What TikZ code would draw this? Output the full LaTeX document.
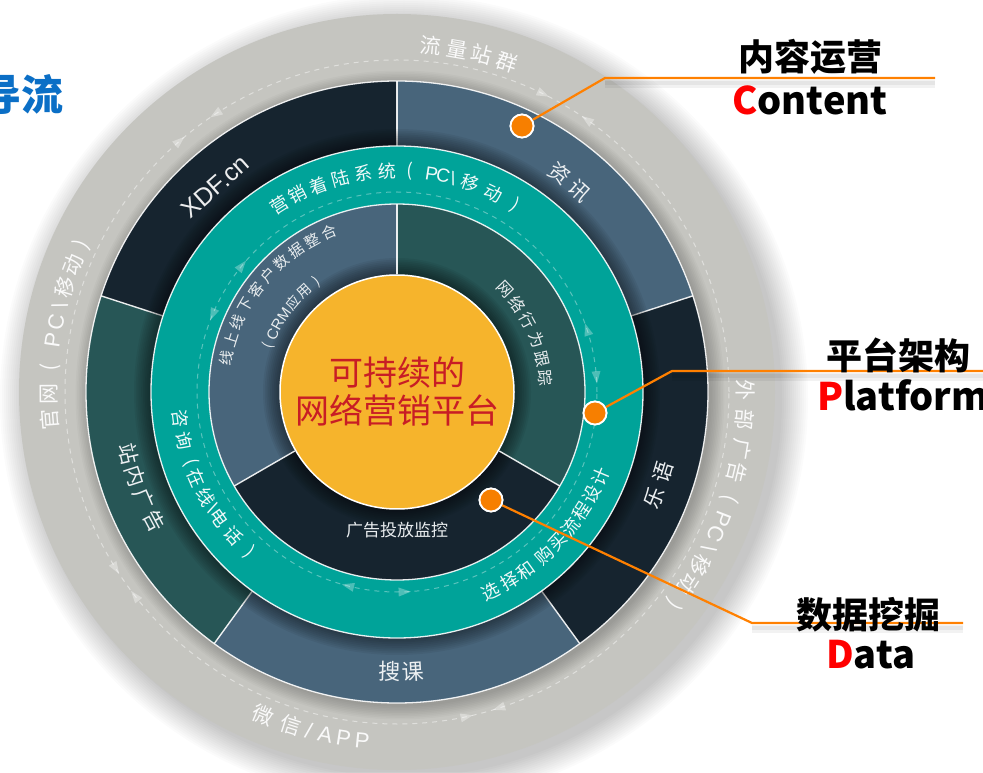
\documentclass[tikz,border=0pt]{standalone}
\usepackage{fontspec}
\newfontfamily\cjk{Noto Sans CJK SC}
\newfontfamily\arialf{Liberation Sans}
\usetikzlibrary{calc}
\definecolor{ringgray}{HTML}{C5C5C0}
\definecolor{navy}{HTML}{16242F}
\definecolor{slate}{HTML}{48657B}
\definecolor{dteal}{HTML}{275656}
\definecolor{tealr}{HTML}{00A399}
\definecolor{corey}{HTML}{F6B42C}
\definecolor{corered}{HTML}{C81D25}
\definecolor{dotor}{HTML}{F77F00}
\definecolor{lineor}{HTML}{FF8000}
\definecolor{titleblue}{HTML}{0B6FC6}
\definecolor{labred}{HTML}{FF0000}
\newcommand\fs[1]{\fontsize{#1}{#1}\selectfont}
\newcommand\slashc{/}
\newcommand\LA[1]{{\arialf\fs{22}#1}}
\newcommand\LB[1]{{\arialf\fs{19}#1}}
\newcommand\LC[1]{{\arialf\fs{15}#1}}
% #1 name prefix, #2 radius, #3 sign (-1 clockwise, tops out; 1 counter-clockwise, tops in), #4 style, #5 angle/text list
\newcommand\ringtext[5]{%
  \foreach \ang/\txt [count=\k] in {#5}{%
    \pgfmathsetmacro\rot{\ang+90*(#3)}%
    \node[#4, rotate=\rot] (#1\k) at ($(C)+(\ang:#2)$) {\txt};
  }%
}
% #1 angle, #2 radius, #3 direction (+1 ccw, -1 cw), #4 style
\newcommand\tri[4]{%
  \pgfmathsetmacro\dd{#1+90*(#3)}%
  \fill[#4] ($(C)+(#1:#2)+(\dd:7)$) -- ($(C)+(#1:#2)+(\dd+140:7)$) -- ($(C)+(#1:#2)+(\dd-140:7)$) -- cycle;
}
\newcommand\pie[4]{% color, a1, a2, radius
  \fill[#1] (C) -- ($(C)+(#2:#4)$) arc[start angle=#2, end angle=#3, radius=#4] -- cycle;
}
\tikzset{
  graytxt/.style={inner sep=0pt, text=white!92!ringgray, font=\cjk\fs{21}},
  darktxt/.style={inner sep=0pt, text=white!90!slate, font=\cjk\fs{21}},
  tealtxt/.style={inner sep=0pt, text=white!94!tealr, font=\cjk\fs{18}},
  innertxt/.style={inner sep=0pt, text=white!88!slate, font=\cjk\fs{15}},
  divider/.style={white, line width=1.4pt, opacity=0.9},
  edge/.style={white, line width=1.3pt, opacity=0.9},
  dashring/.style={white, line width=1pt, dash pattern=on 5pt off 5pt},
  graytri/.style={white, opacity=0.35},
  tealtri/.style={white, opacity=0.3},
  dotnode/.style={circle, fill=dotor, draw=white, line width=1.8pt, minimum size=23pt, inner sep=0pt},
  leader/.style={lineor, line width=2.2pt},
  labzh/.style={inner sep=0pt, font=\cjk\bfseries\fs{36}, text=black},
  laben/.style={inner sep=0pt, font=\cjk\bfseries\fs{38}, text=black},
}
\begin{document}
\begin{tikzpicture}[x=1pt, y=1pt]
\useasboundingbox (0,0) rectangle (983,772);
\fill[white] (0,0) rectangle (983,772);
\coordinate (C) at (397,380);

% soft shadow of the wheel
\foreach \k in {1,...,14} {
  \fill[black, opacity=0.016] ($(C)+(7,-7)$) circle[radius=376+2*\k];
}
% outer gray ring
\fill[ringgray] (C) circle[radius=378];
\draw[dashring, opacity=0.45] (C) circle[radius=332];
\tri{123}{332}{1}{graytri}
\tri{131}{332}{-1}{graytri}
\tri{55}{332}{1}{graytri}
\tri{64}{332}{-1}{graytri}
\tri{212}{332}{1}{graytri}
\tri{218}{332}{-1}{graytri}
\tri{282}{332}{1}{graytri}
\tri{288}{332}{-1}{graytri}
% shadow cast by the dark ring
\foreach \k in {1,...,9} {
  \fill[black, opacity=0.025] ($(C)+(3,-3)$) circle[radius=310+1.6*\k];
}

% dark ring segments
\pie{slate}{18}{90}{311}
\pie{navy}{90}{162}{311}
\pie{dteal}{162}{234}{311}
\pie{slate}{234}{306}{311}
\pie{navy}{306}{378}{311}
\foreach \a in {18,90,162,234,306} {
  \draw[divider] ($(C)+(\a:246)$) -- ($(C)+(\a:311)$);
}
\draw[edge] (C) circle[radius=311];
% shadow of teal ring on dark ring
\foreach \k in {1,...,10} {
  \fill[black, opacity=0.05] (C) circle[radius=245+1.8*\k];
}

% teal ring
\fill[tealr] (C) circle[radius=246];
\draw[edge] (C) circle[radius=246];
\draw[dashring, opacity=0.35] (C) circle[radius=200];
\tri{141}{200}{-1}{tealtri}
\tri{157}{200}{1}{tealtri}
\tri{4.4}{200}{-1}{tealtri}
\tri{18}{200}{1}{tealtri}
\tri{256}{200}{-1}{tealtri}
\tri{272}{200}{1}{tealtri}

% inner ring segments
\pie{dteal}{-30}{90}{188}
\pie{slate}{90}{210}{188}
\pie{navy}{210}{330}{188}
\draw[edge] (C) circle[radius=188];
\foreach \k in {1,...,10} {
  \fill[black, opacity=0.055] (C) circle[radius=116+1.8*\k];
}
\foreach \a in {90,210,330} {
  \draw[divider] ($(C)+(\a:118)$) -- ($(C)+(\a:188)$);
}
% core
\fill[corey] (C) circle[radius=117];
\draw[white, line width=1.5pt] (C) circle[radius=117];
\node[inner sep=0pt, align=center, text=corered, font=\cjk\fs{34}] (core) at (397,380)
  {\fs{34}可持续的\\[4pt]\fs{34}网络营销平台};

% ---------- texts on the gray ring
\ringtext{ga}{348}{-1}{graytxt}{84.4/流,80.1/量,75.9/站,71.6/群}
\ringtext{gb}{348}{-1}{graytxt}{184.5/官,180.3/网,176/(,171.5/\LA{P},168.4/\LA{C},165.7/\LA{\textbackslash},162.5/移,158.5/动,155/)}
\ringtext{gc}{349}{-1}{graytxt}{0.3/外,-4.6/部,-9.5/广,-13.4/告,-17.8/(,-21.3/\LA{P},-24/\LA{C},-26.7/\LA{\textbackslash},-29.8/移,-33.4/动,-37.5/)}
\ringtext{gd}{350}{1}{graytxt}{247.6/微,252.3/信,255.4/\LA{\slashc},258.2/\LA{A},261.2/\LA{P},264.3/\LA{P}}

% ---------- texts on the dark ring
\node[inner sep=0pt, text=white!92!navy, font=\arialf\fs{25}, rotate=41.5] (xdf) at ($(C)+(131.5:274)$) {XDF.cn};
\ringtext{da}{272}{-1}{darktxt}{53.3/资,47.8/讯}
\ringtext{db}{275}{1}{darktxt}{193.1/站,197.8/内,203/广,208/告}
\ringtext{dc}{280}{1}{darktxt, font=\cjk\fs{22}}{268.6/搜,273.3/课}
\ringtext{dd}{278}{1}{darktxt}{-22.4/乐,-16.8/语}

% ---------- texts on the teal ring
\ringtext{ta}{221}{-1}{tealtxt}{122.2/营,116.7/销,110.9/着,104.9/陆,98.8/系,92.6/统,86.6/(,81/\LB{P},77.9/\LB{C},75.3/\LB{\textbackslash},70.7/移,64.2/动,57.7/)}
\ringtext{tb}{218}{1}{tealtxt}{186.9/咨,192.9/询,198.9/(,203.3/在,208.9/线,212.2/\LB{\textbackslash},215.4/电,221.3/话,227.4/)}
\ringtext{tc}{220}{1}{tealtxt}{-64.8/选,-59.3/择,-54.2/和,-48/购,-42.8/买,-38/流,-32.8/程,-27.7/设,-22.5/计}

% ---------- texts on the inner ring
\ringtext{ia}{149}{-1}{innertxt, font=\cjk\fs{16}}{43.4/网,36.1/络,28.6/行,20.5/为,12.9/跟,5.4/踪}
\ringtext{ib}{174}{-1}{innertxt}{168.7/线,162.5/上,156.3/线,150.2/下,144/客,137.8/户,131.6/数,125.5/据,119.3/整,113.1/合}
\ringtext{ic}{137}{-1}{innertxt, font=\cjk\fs{14}}{160.5/(,155/\LC{C},150.6/\LC{R},145.4/\LC{M},139.3/应,132.7/用,126/)}
\node[innertxt, font=\cjk\fs{17}] (adv) at (397,242) {广告投放监控};

% ---------- title fragment
\node[inner sep=0pt, anchor=east, text=titleblue, font=\cjk\bfseries\fs{42}] (title) at (64,677) {导流};

% ---------- leader lines
\foreach \ya/\xa/\xb in {688/605/935, 395/672/983, 143/752/963} {
  \draw[black, opacity=0.05, line width=8pt] (\xa,\ya) -- (\xb,\ya);
  \draw[black, opacity=0.05, line width=4pt] (\xa,\ya+1) -- (\xb,\ya+1);
}
\node[dotnode] (dC) at (522,646) {};
\node[dotnode] (dP) at (595,359) {};
\node[dotnode] (dD) at (491,272) {};
\coordinate (cC1) at (605,694);
\coordinate (cC2) at (935,694);
\coordinate (cP1) at (672,401);
\coordinate (cP2) at (983,401);
\coordinate (cD1) at (752,149);
\coordinate (cD2) at (963,149);
\draw[leader] (dC) -- (cC1) -- (cC2);
\draw[leader] (dP) -- (cP1) -- (cP2);
\draw[leader] (dD) -- (cD1) -- (cD2);
\node[dotnode] at (dC) {};
\node[dotnode] at (dP) {};
\node[dotnode] at (dD) {};

% ---------- labels
\node[labzh] (lC1) at (810,715) {内容运营};
\node[laben] (lC2) at (810,672) {\textcolor{labred}{C}ontent};
\node[labzh] (lP1) at (898,417) {平台架构};
\node[laben, anchor=west] (lP2) at (817,377) {\textcolor{labred}{P}latform};
\node[labzh] (lD1) at (868,157) {数据挖掘};
\node[laben, anchor=west] (lD2) at (826,117) {\textcolor{labred}{D}ata};
\end{tikzpicture}
\end{document}
